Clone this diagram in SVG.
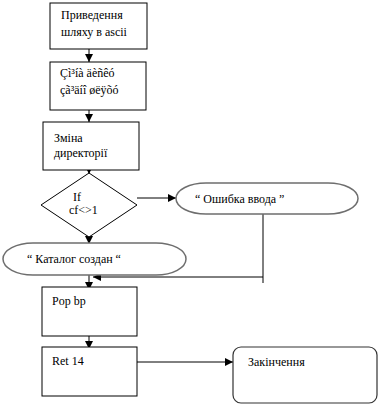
<svg xmlns="http://www.w3.org/2000/svg" width="380" height="408" viewBox="0 0 380 408">
<defs>
<marker id="arr" viewBox="0 0 10 10" refX="10" refY="5" markerWidth="8" markerHeight="8" markerUnits="userSpaceOnUse" orient="auto">
<path d="M0,0 L10,5 L0,10 z" fill="#000"/>
</marker>
<style>
.box{fill:#fff;stroke:#000;stroke-width:1}
.pill{fill:#fff;stroke:#6e6e6e;stroke-width:1.5}
.t{font-family:"Liberation Serif","Times New Roman",serif;font-size:12px;fill:#000}
.c{fill:none;stroke:#000;stroke-width:1}
</style>
</defs>
<rect width="380" height="408" fill="#fff"/>
<g id="connectors">
<line class="c" x1="89" y1="49" x2="89" y2="62" marker-end="url(#arr)"/>
<line class="c" x1="89" y1="110" x2="89" y2="122" marker-end="url(#arr)"/>
<line class="c" x1="89" y1="163" x2="89" y2="174" marker-end="url(#arr)"/>
<line class="c" x1="137" y1="198" x2="176" y2="198" marker-end="url(#arr)"/>
<line class="c" x1="89" y1="230" x2="89" y2="244" marker-end="url(#arr)"/>
<line class="c" x1="263" y1="208" x2="263" y2="283"/>
<line class="c" x1="263" y1="277" x2="93" y2="277" marker-end="url(#arr)"/>
<line class="c" x1="89" y1="268" x2="89" y2="290" marker-end="url(#arr)"/>
<line class="c" x1="89" y1="327" x2="89" y2="349" marker-end="url(#arr)"/>
<line class="c" x1="137" y1="362" x2="233" y2="362" marker-end="url(#arr)"/>
</g>
<g id="n1"><rect class="box" x="50" y="3" width="97" height="46"/>
<text class="t" x="61" y="19">Приведення</text><text class="t" x="61" y="36">шляху в ascii</text></g>
<g id="n2"><rect class="box" x="50" y="62" width="96" height="48"/>
<text class="t" x="60" y="77">Çì³íà äèñêó</text><text class="t" x="60" y="94">çã³äíî øëÿõó</text></g>
<g id="n3"><rect class="box" x="43" y="122" width="96" height="48"/>
<text class="t" x="54" y="142">Зміна</text><text class="t" x="54" y="157">директорії</text></g>
<g id="n4"><polygon class="box" points="89,173 137,205 89,237 41,205"/>
<text class="t" x="73" y="201">If</text><text class="t" x="69" y="214">cf&lt;&gt;1</text></g>
<g id="n5"><rect class="pill" x="176" y="183" width="182" height="31" rx="30" ry="15.5"/>
<text class="t" x="195" y="203">“ Ошибка ввода ”</text></g>
<g id="n6"><rect class="pill" x="3" y="243" width="183" height="32" rx="30" ry="16"/>
<text class="t" x="27" y="263">“ Каталог создан “</text></g>
<g id="n7"><rect class="box" x="42" y="287" width="95" height="49"/>
<text class="t" x="52" y="305">Pop bp</text></g>
<g id="n8"><rect class="box" x="42" y="347" width="95" height="49"/>
<text class="t" x="52" y="365">Ret 14</text></g>
<g id="n9"><rect x="233" y="347" width="144" height="56" rx="8" ry="8" fill="#fff" stroke="#333" stroke-width="1.2"/>
<text class="t" x="248" y="366">Закінчення</text></g>
</svg>
